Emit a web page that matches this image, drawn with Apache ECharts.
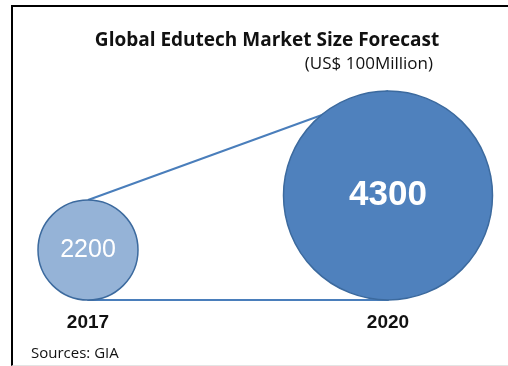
<!DOCTYPE html>
<html>
<head>
<meta charset="utf-8">
<script src="https://cdn.jsdelivr.net/npm/echarts@6/dist/echarts.min.js"></script>
<style>
  html, body { margin: 0; padding: 0; background: #fff; overflow: hidden; }
  #main { width: 508px; height: 366px; }
  #frame {
    position: absolute; left: 11px; top: 5px; width: 540px; height: 358px;
    border-top: 2px solid #000; border-left: 2px solid #000; border-bottom: 1px solid #e4e4e4;
    pointer-events: none;
  }
</style>
</head>
<body>
<div id="main"></div>
<div id="frame"></div>
<script>
// data
var years = ['2017', '2020'];
var marketSize = [2200, 4300];   // US$ 100 million
var circleColors = ['#95B3D7', '#4F81BD'];

// circle diameter (px) from value
function sizeOf(v) {
    return 100 + (v - 2200) * 109 / 2100;
}

var chart = echarts.init(document.getElementById('main'), null, { renderer: 'canvas' });

var option = {
    animation: false,
    title: [
        {
            text: 'Global Edutech Market Size Forecast',
            left: 262, top: 26, textAlign: 'center',
            textStyle: { fontFamily: 'Open Sans', fontWeight: 'bold', fontSize: 19, color: '#111' }
        },
        {
            text: '(US$ 100Million)',
            right: 70, top: 51,
            textStyle: { fontFamily: 'Open Sans', fontWeight: 'normal', fontSize: 17, color: '#111' }
        },
        {
            text: 'Sources: GIA',
            left: 26, top: 341,
            textStyle: { fontFamily: 'Open Sans', fontWeight: 'normal', fontSize: 15, color: '#111' }
        }
    ],
    grid: { left: 88, right: 120, top: 0, bottom: 66, containLabel: false },
    xAxis: {
        type: 'category',
        data: years,
        boundaryGap: false,
        axisLine: { show: true, lineStyle: { color: '#4A7EBB', width: 2 } },
        axisTick: { show: false },
        axisLabel: {
            margin: 13,
            fontFamily: 'Liberation Sans', fontWeight: 'bold', fontSize: 19, color: '#111'
        },
        splitLine: { show: false }
    },
    yAxis: { type: 'value', min: 0, max: 300, show: false },
    series: [
        {
            // tangent line over the circle tops
            type: 'line',
            z: 1,
            symbol: 'none',
            lineStyle: { color: '#4A7EBB', width: 2 },
            data: marketSize.map(function (v, i) { return [years[i], sizeOf(v)]; })
        },
        {
            type: 'scatter',
            z: 3,
            symbolOffset: [0, '-50%'],
            data: marketSize.map(function (v, i) {
                return {
                    value: [years[i], 0],
                    symbolSize: sizeOf(v),
                    itemStyle: { color: circleColors[i], borderColor: '#3C6A9E', borderWidth: 1.5, opacity: 1 },
                    label: {
                        show: true,
                        position: 'inside',
                        formatter: String(v),
                        fontFamily: 'Liberation Sans',
                        fontSize: i === 0 ? 25 : 35,
                        fontWeight: i === 0 ? 'normal' : 'bold',
                        color: '#fff'
                    }
                };
            }),
            emphasis: { disabled: true }
        }
    ]
};

chart.setOption(option);
window.addEventListener('resize', chart.resize);
</script>
</body>
</html>
